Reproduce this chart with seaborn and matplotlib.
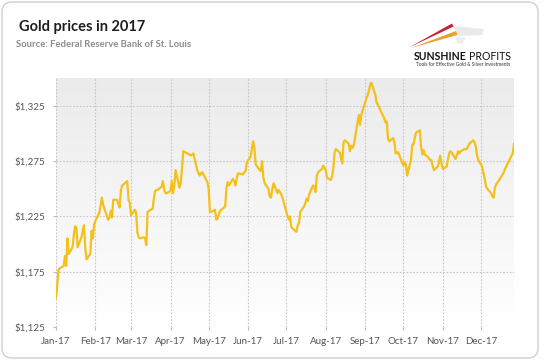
import numpy as np
import pandas as pd
import matplotlib
matplotlib.use("Agg")
import matplotlib.pyplot as plt
import matplotlib.dates as mdates
from matplotlib.ticker import FuncFormatter
from matplotlib.colors import LinearSegmentedColormap
from matplotlib.patches import FancyBboxPatch, Polygon
from matplotlib.transforms import IdentityTransform
import seaborn as sns

# London bank holidays (no fixing on these days)
holidays = ["2017-01-02", "2017-04-14", "2017-04-17", "2017-05-01",
            "2017-05-29", "2017-08-28", "2017-12-25", "2017-12-26"]

# daily gold price (USD/oz), one value per trading day
jan = [1151, 1163, 1177, 1178, 1180, 1189, 1180, 1205, 1191, 1197, 1208,
       1216, 1215, 1197, 1206, 1212, 1217, 1197, 1186, 1191, 1212]
feb = [1205, 1218, 1221, 1228, 1234, 1242, 1236, 1232, 1222, 1224, 1230,
       1224, 1240, 1240, 1236, 1233, 1248, 1253, 1256, 1257]
mar = [1240, 1237, 1226, 1231, 1228, 1210, 1206, 1205, 1206, 1205, 1199,
       1229, 1230, 1232, 1242, 1248, 1249, 1249, 1252, 1257, 1250, 1246, 1246]
apr = [1248, 1257, 1246, 1253, 1267, 1251, 1255, 1268, 1284, 1281, 1280,
       1281, 1282, 1267, 1264, 1262, 1264, 1265]
may = [1256, 1250, 1229, 1229, 1231, 1222, 1223, 1227, 1230, 1233, 1234,
       1251, 1256, 1253, 1259, 1257, 1253, 1259, 1264, 1263, 1265]
jun = [1266, 1274, 1279, 1287, 1293, 1286, 1272, 1267, 1266, 1275, 1260,
       1255, 1250, 1243, 1242, 1250, 1255, 1246, 1249, 1247, 1245, 1242]
jul = [1229, 1225, 1222, 1225, 1215, 1212, 1211, 1217, 1219, 1229, 1234,
       1237, 1241, 1239, 1245, 1253, 1251, 1247, 1262, 1265, 1268]
aug = [1271, 1269, 1267, 1260, 1258, 1261, 1269, 1283, 1286, 1283, 1278,
       1273, 1292, 1294, 1291, 1284, 1289, 1287, 1289, 1317, 1308, 1317]
sep = [1321, 1332, 1335, 1339, 1345, 1346, 1335, 1328, 1326, 1324, 1321,
       1314, 1310, 1311, 1295, 1293, 1296, 1292, 1282, 1283, 1283]
oct_ = [1274, 1271, 1274, 1272, 1262, 1276, 1290, 1290, 1296, 1301, 1303,
        1288, 1281, 1285, 1281, 1278, 1276, 1276, 1271, 1267, 1270, 1274]
nov = [1280, 1273, 1268, 1270, 1276, 1282, 1284, 1283, 1277, 1280, 1284,
       1282, 1284, 1286, 1286, 1286, 1289, 1291, 1294, 1292, 1288, 1280]
dec = [1276, 1270, 1264, 1259, 1252, 1250, 1246, 1243, 1242, 1251, 1254,
       1259, 1261, 1263, 1265, 1268, 1280, 1282, 1291]

y_ticks = [1125, 1175, 1225, 1275, 1325]

prices = jan + feb + mar + apr + may + jun + jul + aug + sep + oct_ + nov + dec
dates = pd.bdate_range("2017-01-03", "2017-12-29")
dates = dates[~dates.isin(pd.to_datetime(holidays))]
df = pd.DataFrame({"date": dates, "price": prices})

sns.set_theme(style="white")
plt.rcParams["font.family"] = ["Lato", "DejaVu Sans"]

W, H = 540, 360
fig = plt.figure(figsize=(W / 100, H / 100), dpi=100)
fig.patch.set_facecolor("white")

# plot area in pixels: x 56..514, y 78..327
ax = fig.add_axes([56 / W, 1 - 326.7 / H, (514 - 56) / W, (326.7 - 78) / H])

sns.lineplot(data=df, x="date", y="price", ax=ax, color="#F4C01A", linewidth=1.6, zorder=3)

# grey-to-white background gradient
grad = LinearSegmentedColormap.from_list("bg", ["#ebebeb", "#ffffff"])
ax.imshow(np.linspace(0, 1, 256).reshape(-1, 1), cmap=grad, aspect="auto",
          extent=[0, 1, 0, 1], transform=ax.transAxes, zorder=0)

ax.set_xlim(df["date"].iloc[0], df["date"].iloc[-1])
ax.set_ylim(1125, 1350.4)
ax.set_yticks(y_ticks)
ax.yaxis.set_major_formatter(FuncFormatter(lambda v, p: f"${v:,.0f}"))
ax.xaxis.set_major_locator(mdates.MonthLocator(bymonthday=3))
ax.xaxis.set_major_formatter(mdates.DateFormatter("%b-%y"))
ax.set_xlabel("")
ax.set_ylabel("")

ax.set_axisbelow(True)
ax.grid(True, color="#c6c6c6", linestyle=(0, (1.5, 1.5)), linewidth=0.8)
for s in ax.spines.values():
    s.set_visible(False)
ax.tick_params(axis="both", bottom=True, left=True, length=2.5, width=0.8,
               color="#bbbbbb", labelsize=7, labelcolor="#555555")
ax.tick_params(axis="x", pad=5)
ax.tick_params(axis="y", pad=5)

# titles
fig.text(19 / W, 1 - 27 / H, "Gold prices in 2017", fontsize=10.5,
         fontweight="bold", color="#1e1e1e", va="center", ha="left")
fig.text(16 / W, 1 - 44.7 / H, "Source: Federal Reserve Bank of St. Louis",
         fontsize=6.8, fontweight="bold", color="#8c8c8c", va="center", ha="left")

# logo
def px(x, y):
    return (x / W, 1 - y / H)

logo = [
    ([(453, 26), (484, 29), (482, 35), (458, 36)], "#dddddd", 0.6),
    ([(455, 36), (466, 38), (462, 44), (457, 43)], "#e4e4e4", 0.6),
    ([(409, 47.5), (452, 23.5), (453.5, 26.5)], "#C8202E", 1.0),
    ([(411, 48), (456, 31), (457.5, 35)], "#E6A131", 1.0),
]
for pts, col, a in logo:
    fig.patches.append(Polygon([px(*p) for p in pts], closed=True, facecolor=col,
                               edgecolor="none", alpha=a, transform=fig.transFigure))

t1 = fig.text(414 / W, 1 - 56.7 / H, "SUNSHINE", fontsize=7.6, fontweight="bold",
              color="#111111", va="center", ha="left")
fig.canvas.draw()
x_end = t1.get_window_extent(fig.canvas.get_renderer()).x1
fig.text((x_end + 2.5) / W, 1 - 56.7 / H, "PROFITS", fontsize=7.6, color="#111111",
         va="center", ha="left")
fig.text(463 / W, 1 - 64.5 / H, "Tools for Effective Gold & Silver Investments",
         fontsize=3.4, color="#333333", va="center", ha="center")

# rounded outer frame
frame = FancyBboxPatch((2, 2), W - 4, H - 4, boxstyle="round,pad=0,rounding_size=10",
                       transform=IdentityTransform(), facecolor="none",
                       edgecolor="#cfcfcf", linewidth=1)
fig.patches.append(frame)

fig.savefig("out.png", dpi=100)
